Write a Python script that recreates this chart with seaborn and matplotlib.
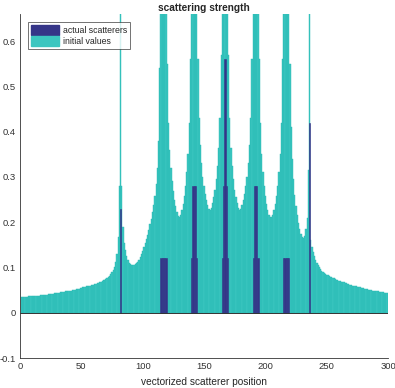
import matplotlib
matplotlib.use("Agg")
import matplotlib.pyplot as plt
from matplotlib.patches import Patch
import seaborn as sns

# bar positions 1..300 and the "initial values"
positions = list(range(1, 301))
initial_values = [
    0.034, 0.034, 0.035, 0.035, 0.035, 0.035, 0.036, 0.036, 0.036, 0.036,
    0.037, 0.037, 0.037, 0.038, 0.038, 0.038, 0.039, 0.039, 0.039, 0.040,
    0.040, 0.040, 0.041, 0.041, 0.041, 0.042, 0.042, 0.043, 0.043, 0.043,
    0.044, 0.044, 0.045, 0.045, 0.046, 0.046, 0.047, 0.047, 0.048, 0.048,
    0.049, 0.049, 0.050, 0.051, 0.051, 0.052, 0.053, 0.053, 0.054, 0.055,
    0.056, 0.056, 0.057, 0.058, 0.059, 0.059, 0.060, 0.061, 0.062, 0.062,
    0.063, 0.064, 0.065, 0.066, 0.068, 0.069, 0.070, 0.072, 0.073, 0.075,
    0.077, 0.079, 0.082, 0.085, 0.089, 0.094, 0.101, 0.112, 0.130, 0.168,
    0.280, 0.900, 0.280, 0.190, 0.155, 0.138, 0.125, 0.117, 0.111, 0.108,
    0.106, 0.105, 0.106, 0.107, 0.109, 0.112, 0.117, 0.124, 0.130, 0.137,
    0.145, 0.153, 0.162, 0.172, 0.183, 0.195, 0.208, 0.222, 0.238, 0.258,
    0.285, 0.320, 0.380, 0.540, 0.900, 0.900, 0.900, 0.900, 0.900, 0.550,
    0.420, 0.360, 0.320, 0.290, 0.270, 0.250, 0.235, 0.222, 0.213, 0.211,
    0.216, 0.226, 0.240, 0.258, 0.280, 0.310, 0.350, 0.420, 0.560, 0.900,
    0.900, 0.900, 0.900, 0.900, 0.560, 0.430, 0.370, 0.330, 0.300, 0.280,
    0.262, 0.248, 0.237, 0.229, 0.227, 0.232, 0.242, 0.255, 0.272, 0.295,
    0.325, 0.365, 0.430, 0.570, 0.900, 0.900, 0.900, 0.900, 0.900, 0.570,
    0.430, 0.365, 0.325, 0.295, 0.272, 0.255, 0.242, 0.232, 0.227, 0.229,
    0.237, 0.248, 0.262, 0.280, 0.300, 0.330, 0.370, 0.430, 0.560, 0.900,
    0.900, 0.900, 0.900, 0.900, 0.560, 0.420, 0.350, 0.310, 0.280, 0.258,
    0.240, 0.226, 0.216, 0.211, 0.211, 0.216, 0.226, 0.240, 0.258, 0.280,
    0.310, 0.350, 0.420, 0.560, 0.900, 0.900, 0.900, 0.900, 0.900, 0.550,
    0.410, 0.340, 0.295, 0.260, 0.235, 0.215, 0.198, 0.185, 0.175, 0.168,
    0.166, 0.170, 0.185, 0.210, 0.315, 0.900, 0.160, 0.145, 0.135, 0.125,
    0.117, 0.110, 0.105, 0.100, 0.096, 0.093, 0.090, 0.088, 0.086, 0.084,
    0.083, 0.081, 0.080, 0.078, 0.077, 0.076, 0.074, 0.073, 0.072, 0.071,
    0.070, 0.069, 0.068, 0.067, 0.066, 0.065, 0.064, 0.063, 0.062, 0.061,
    0.060, 0.059, 0.059, 0.058, 0.057, 0.056, 0.056, 0.055, 0.054, 0.054,
    0.053, 0.052, 0.052, 0.051, 0.050, 0.050, 0.049, 0.049, 0.048, 0.048,
    0.047, 0.047, 0.046, 0.046, 0.045, 0.045, 0.044, 0.044, 0.043, 0.043,
]

# actual scatterers (only the non-zero ones)
scatterer_pos = [82,
                 115, 116, 117, 118, 119,
                 140, 141, 142, 143, 144,
                 165, 166, 167, 168, 169,
                 190, 191, 192, 193, 194,
                 215, 216, 217, 218, 219,
                 236]
scatterer_val = [0.23,
                 0.12, 0.12, 0.12, 0.12, 0.12,
                 0.12, 0.28, 0.28, 0.28, 0.12,
                 0.12, 0.28, 0.56, 0.28, 0.12,
                 0.12, 0.28, 0.28, 0.28, 0.12,
                 0.12, 0.12, 0.12, 0.12, 0.12,
                 0.42]

x_ticks = [0, 50, 100, 150, 200, 250, 300]
y_ticks = [-0.1, 0, 0.1, 0.2, 0.3, 0.4, 0.5, 0.6]
y_tick_labels = ["-0.1", "0", "0.1", "0.2", "0.3", "0.4", "0.5", "0.6"]

cyan = "#3cc6c0"
cyan_edge = "#28bab4"
navy = "#353588"

sns.set_style("white")
plt.rcParams["font.family"] = ["Liberation Sans", "DejaVu Sans"]

fig = plt.figure(figsize=(3.95, 3.88), dpi=100)
ax = fig.add_axes([0.0506, 0.0773, 0.932, 0.8866])

sns.barplot(x=positions, y=initial_values, native_scale=True, color=cyan,
            saturation=1, width=1.0, errorbar=None, edgecolor=cyan_edge,
            linewidth=0.3, ax=ax)
sns.barplot(x=scatterer_pos, y=scatterer_val, native_scale=True, color=navy,
            saturation=1, width=1.0, errorbar=None, edgecolor=navy,
            linewidth=0.4, ax=ax)

ax.axhline(0, color="#333333", lw=0.7, zorder=5)

ax.set_xlim(0, 300)
ax.set_ylim(-0.1, 0.66)
ax.set_xticks(x_ticks)
ax.set_xticklabels([str(t) for t in x_ticks])
ax.set_yticks(y_ticks)
ax.set_yticklabels(y_tick_labels)
ax.tick_params(direction="in", length=3, width=0.5, labelsize=6.8,
               colors="#333333", pad=3)

for side in ["top", "right"]:
    ax.spines[side].set_visible(False)
for side in ["left", "bottom"]:
    ax.spines[side].set_color("#333333")
    ax.spines[side].set_linewidth(0.6)

ax.set_title("scattering strength", fontsize=7.3, fontweight="bold", pad=2.5)
ax.set_xlabel("vectorized scatterer position", fontsize=7.3, labelpad=4)
ax.set_ylabel("")

handles = [Patch(facecolor=navy, edgecolor=navy, label="actual scatterers"),
           Patch(facecolor=cyan, edgecolor=cyan, label="initial values")]
leg = ax.legend(handles=handles, loc="upper left", bbox_to_anchor=(0.022, 0.976),
                fontsize=6.3, frameon=True, fancybox=False, handlelength=3.2,
                handleheight=1.3, borderpad=0.35, labelspacing=0.15,
                handletextpad=0.4, borderaxespad=0)
leg.get_frame().set_edgecolor("#333333")
leg.get_frame().set_linewidth(0.6)

fig.savefig("out.png", dpi=100)
